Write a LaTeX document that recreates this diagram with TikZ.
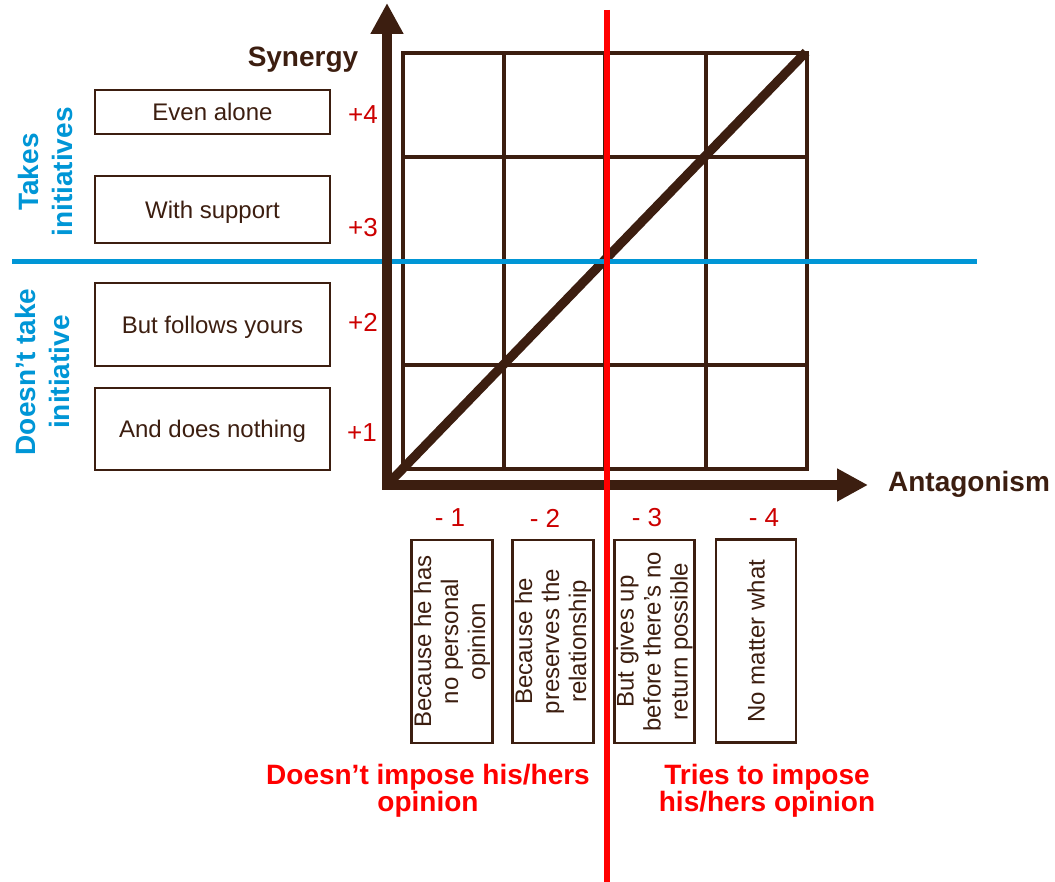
\documentclass[tikz,border=0pt]{standalone}
\usepackage{fontspec}
\setmainfont{Liberation Sans}
\usetikzlibrary{arrows.meta,positioning}
\definecolor{axisbrown}{HTML}{3C1E10}
\definecolor{scorered}{HTML}{CC0000}
\definecolor{splitred}{HTML}{FF0000}
\definecolor{splitblue}{HTML}{0096D6}

\begin{document}
\begin{tikzpicture}[x=0.5pt, y=-0.5pt,
        box/.style={draw=axisbrown, line width=1.35pt, minimum width=117.5pt, align=center,
                    text depth=0pt, text=axisbrown, font=\fontsize{12}{13.5}\selectfont},
        vbox/.style={draw=axisbrown, line width=1.35pt, rotate=90, minimum width=101.5pt,
                    minimum height=40pt, inner sep=1pt, align=center,
                    text=axisbrown, font=\fontsize{12}{13.5}\selectfont},
        score/.style={text=scorered, font=\fontsize{13}{15}\selectfont},
        axislabel/.style={text=axisbrown, font=\bfseries\fontsize{14}{16}\selectfont},
        side/.style={rotate=90, align=center, text=splitblue, font=\bfseries\fontsize{14}{17}\selectfont},
        verdict/.style={align=center, text=splitred, font=\bfseries\fontsize{14}{13.5}\selectfont},
        cell/.style={axisbrown, line width=1.6pt, line cap=rect},
        diag/.style={axisbrown, line width=4.6pt},
        axis/.style={axisbrown, line width=5pt,
                     {Triangle[length=15.5pt,width=15.5pt]}-{Triangle[length=15.5pt,width=15.5pt]}}]
        \useasboundingbox (0,0) rectangle (1055,882);
        \foreach \i in {0,...,4} {
          \draw[cell] (403+101*\i,53) -- (403+101*\i,469);
          \draw[cell] (403,53+104*\i) -- (807,53+104*\i);
        }
        \coordinate (o) at (387,485);
        \coordinate (ytop) at (387,3);
        \coordinate (xend) at (868,485);
        \coordinate (dtop) at (806,52);
        \coordinate (bl) at (12,261.5);
        \coordinate (br) at (977,261.5);
        \coordinate (rt) at (607,10);
        \coordinate (rb) at (607,882);
        \draw[diag] (o) -- (dtop);
        \draw[splitblue, line width=2.8pt] (bl) -- (br);
        \draw[axis] (ytop) -- (o) -- (xend);
        \draw[splitred, line width=2.7pt] (rt) -- (rb);

        \node[axislabel] (syn) at (303,60) {Synergy};
        \node[axislabel] (ant) at (969,484) {Antagonism};

        \node[box, minimum height=22pt] (alone) at (212.5,112) {Even alone};
        \node[box, minimum height=33.5pt] (support) at (212.5,209.5) {With support};
        \node[box, minimum height=41.5pt] (follows) at (212.5,324.5) {But follows yours};
        \node[box, minimum height=41pt] (nothing) at (212.5,429) {And does nothing};

        \node[score] (p4) at (363,115) {+4};
        \node[score] (p3) at (363,228) {+3};
        \node[score] (p2) at (363,322) {+2};
        \node[score] (p1) at (362,433) {+1};

        \node[side] (takes) at (45,172) {Takes\\initiatives};
        \node[side] (nottake) at (42,372) {Doesn’t take\\initiative};

        \node[score] (m1) at (450,518) {- 1};
        \node[score] (m2) at (545,518) {- 2};
        \node[score] (m3) at (647,518) {- 3};
        \node[score] (m4) at (764,518) {- 4};

        \node[vbox] (noopinion) at (452,641.5) {Because he has\\no personal\\opinion};
        \node[vbox] (preserve) at (553,641.5) {Because he\\preserves the\\relationship};
        \node[vbox] (givesup) at (654.5,641.5) {But gives up\\before there’s no\\return possible};
        \node[vbox] (nomatter) at (756,641) {No matter what};

        \node[verdict] (dont) at (428,791) {Doesn’t impose his/hers\\opinion};
        \node[verdict] (tries) at (767,791) {Tries to impose\\his/hers opinion};
      \end{tikzpicture}
\end{document}
